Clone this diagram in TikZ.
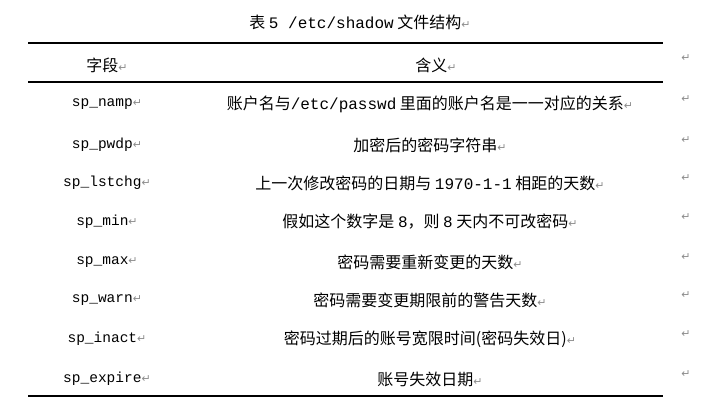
\documentclass[tikz,border=0pt]{standalone}
\usepackage{fontspec}
\setmainfont{Liberation Serif}
\setmonofont{Liberation Mono}
\newfontfamily\cjk{Noto Sans CJK SC}
\newfontfamily\symfont{DejaVu Sans}
\tikzset{
  fieldcell/.style={font=\ttfamily\fontsize{14.5}{16}\selectfont},
  meancell/.style={font=\cjk\fontsize{16}{18}\selectfont},
  rule/.style={line width=2pt, black},
  retmark/.style={font=\symfont\fontsize{11}{12}\selectfont, text=black!45}
}
\newcommand{\ret}{{\symfont\fontsize{11}{12}\selectfont\color{black!45}↵}}

\begin{document}
\begin{tikzpicture}[x=1pt,y=-1pt]
    \useasboundingbox (0,0) rectangle (719,414);
    \node [meancell] (title) at (360,22) {表 {\ttfamily 5 /etc/shadow} 文件结构\ret};
    \coordinate (tl) at (28,43);  \coordinate (tr) at (663,43);
    \coordinate (ml) at (28,82);  \coordinate (mr) at (663,82);
    \coordinate (bl) at (28,396); \coordinate (br) at (663,396);
    \draw [rule] (tl) -- (tr);
    \draw [rule] (ml) -- (mr);
    \draw [rule] (bl) -- (br);
    \node [meancell] (h1) at (107,65) {字段\ret};
    \node [meancell] (h2) at (436,65) {含义\ret};
    \node [retmark] (r0) at (686,58) {↵};
    % rows
    \foreach \y/\f/\m [count=\i] in {
        104/sp\_namp/{账户名与{\ttfamily /etc/passwd} 里面的账户名是一一对应的关系},
        145/sp\_pwdp/{加密后的密码字符串},
        183/sp\_lstchg/{上一次修改密码的日期与 {\ttfamily 1970-1-1} 相距的天数},
        222/sp\_min/{假如这个数字是 {\ttfamily 8}，则 {\ttfamily 8} 天内不可改密码},
        262/sp\_max/{密码需要重新变更的天数},
        300/sp\_warn/{密码需要变更期限前的警告天数},
        339/sp\_inact/{密码过期后的账号宽限时间({密码失效日})},
        379/sp\_expire/{账号失效日期}} {
      \node [fieldcell] (f\i) at (107,\y) {\f\ret};
      \node [meancell] (m\i) at (430,\y) {\m\ret};
      \node [retmark] (r\i) at (686,\y-5) {↵};
    }
\end{tikzpicture}
\end{document}
